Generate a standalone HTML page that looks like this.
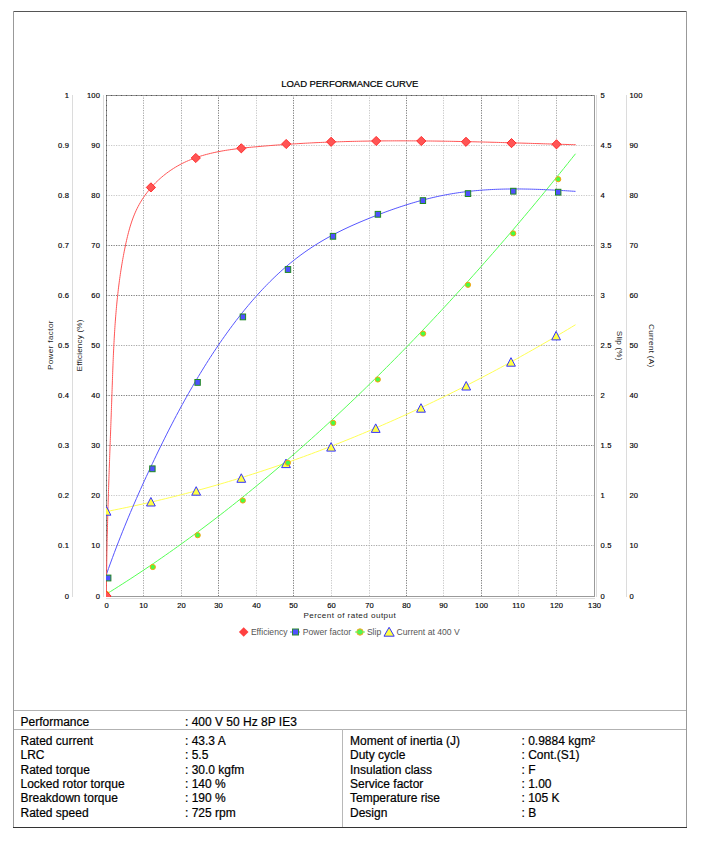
<!DOCTYPE html>
<html><head><meta charset="utf-8">
<style>
html,body{margin:0;padding:0;background:#fff;}
body{width:701px;height:841px;position:relative;overflow:hidden;font-family:"Liberation Sans",sans-serif;}
.ln{position:absolute;}
.t{position:absolute;font-size:12px;line-height:14px;color:#000;white-space:nowrap;-webkit-text-stroke:0.2px #000;}
svg text{font-family:"Liberation Sans",sans-serif;}
.title{font-size:9.5px;fill:#000;stroke:#000;stroke-width:0.2px;}
.tk{font-size:7.6px;fill:#000;stroke:#000;stroke-width:0.15px;letter-spacing:0.2px;}
.at{font-size:8.1px;fill:#222;}
.lg{font-size:8.6px;fill:#555;}
.grid{stroke:#8a8a8a;stroke-width:1;stroke-dasharray:1.25,1.25;}
.gD{stroke:#7e7e7e;} .gM{stroke:#a8a8a8;} .gL{stroke:#c8c8c8;}
.grid.dk{stroke:#555;}
.axl{stroke:#dcdcdc;stroke-width:1;}
</style></head><body>
<svg width="701" height="700" style="position:absolute;left:0;top:0">
<defs><clipPath id="pc"><rect x="106" y="95" width="489" height="502"/></clipPath></defs>
<text x="281.3" y="86.8" textLength="137" lengthAdjust="spacing" class="title">LOAD PERFORMANCE CURVE</text>
<line x1="143.5" y1="95" x2="143.5" y2="596" class="grid gM"/>
<line x1="181.5" y1="95" x2="181.5" y2="596" class="grid gM"/>
<line x1="218.5" y1="95" x2="218.5" y2="596" class="grid gD"/>
<line x1="256.5" y1="95" x2="256.5" y2="596" class="grid gL"/>
<line x1="293.5" y1="95" x2="293.5" y2="596" class="grid gD"/>
<line x1="331.5" y1="95" x2="331.5" y2="596" class="grid gL"/>
<line x1="369.5" y1="95" x2="369.5" y2="596" class="grid gL"/>
<line x1="406.5" y1="95" x2="406.5" y2="596" class="grid gD"/>
<line x1="443.5" y1="95" x2="443.5" y2="596" class="grid gL"/>
<line x1="481.5" y1="95" x2="481.5" y2="596" class="grid gD"/>
<line x1="518.5" y1="95" x2="518.5" y2="596" class="grid gL"/>
<line x1="556.5" y1="95" x2="556.5" y2="596" class="grid gM"/>
<line x1="106" y1="145.5" x2="594" y2="145.5" class="grid gL"/>
<line x1="106" y1="195.5" x2="594" y2="195.5" class="grid gL"/>
<line x1="106" y1="245.5" x2="594" y2="245.5" class="grid gD"/>
<line x1="106" y1="295.5" x2="594" y2="295.5" class="grid gD"/>
<line x1="106" y1="345.5" x2="594" y2="345.5" class="grid gM"/>
<line x1="106" y1="395.5" x2="594" y2="395.5" class="grid gD"/>
<line x1="106" y1="445.5" x2="594" y2="445.5" class="grid gD"/>
<line x1="106" y1="495.5" x2="594" y2="495.5" class="grid gL"/>
<line x1="106" y1="545.5" x2="594" y2="545.5" class="grid gM"/>
<line x1="106" y1="95.5" x2="594" y2="95.5" stroke="#8e8e8e" stroke-width="1"/>
<line x1="106.5" y1="95" x2="106.5" y2="596" stroke="#8e8e8e" stroke-width="1"/>
<line x1="106" y1="95.5" x2="594" y2="95.5" stroke="#555" stroke-width="1" stroke-dasharray="1,4"/>
<line x1="106.5" y1="95" x2="106.5" y2="596" stroke="#555" stroke-width="1" stroke-dasharray="1,4"/>
<line x1="594.5" y1="95" x2="594.5" y2="597" stroke="#9a9a9a" stroke-width="1"/>
<line x1="106" y1="596.5" x2="595" y2="596.5" stroke="#9a9a9a" stroke-width="1"/>
<line x1="72.5" y1="95" x2="72.5" y2="597" class="axl"/>
<line x1="103.5" y1="95" x2="103.5" y2="597" class="axl"/>
<line x1="596.5" y1="95" x2="596.5" y2="597" class="axl"/>
<line x1="626.5" y1="95" x2="626.5" y2="597" class="axl"/>
<line x1="106" y1="598.5" x2="595" y2="598.5" class="axl"/>
<text x="69.2" y="598.6" text-anchor="end" class="tk">0</text>
<text x="100.2" y="598.6" text-anchor="end" class="tk">0</text>
<text x="600.6" y="598.6" text-anchor="start" class="tk">0</text>
<text x="629.4" y="598.6" text-anchor="start" class="tk">0</text>
<text x="69.2" y="547.6" text-anchor="end" class="tk">0.1</text>
<text x="100.2" y="547.6" text-anchor="end" class="tk">10</text>
<text x="600.6" y="547.6" text-anchor="start" class="tk">0.5</text>
<text x="629.4" y="547.6" text-anchor="start" class="tk">10</text>
<text x="69.2" y="497.6" text-anchor="end" class="tk">0.2</text>
<text x="100.2" y="497.6" text-anchor="end" class="tk">20</text>
<text x="600.6" y="497.6" text-anchor="start" class="tk">1</text>
<text x="629.4" y="497.6" text-anchor="start" class="tk">20</text>
<text x="69.2" y="447.6" text-anchor="end" class="tk">0.3</text>
<text x="100.2" y="447.6" text-anchor="end" class="tk">30</text>
<text x="600.6" y="447.6" text-anchor="start" class="tk">1.5</text>
<text x="629.4" y="447.6" text-anchor="start" class="tk">30</text>
<text x="69.2" y="397.6" text-anchor="end" class="tk">0.4</text>
<text x="100.2" y="397.6" text-anchor="end" class="tk">40</text>
<text x="600.6" y="397.6" text-anchor="start" class="tk">2</text>
<text x="629.4" y="397.6" text-anchor="start" class="tk">40</text>
<text x="69.2" y="347.6" text-anchor="end" class="tk">0.5</text>
<text x="100.2" y="347.6" text-anchor="end" class="tk">50</text>
<text x="600.6" y="347.6" text-anchor="start" class="tk">2.5</text>
<text x="629.4" y="347.6" text-anchor="start" class="tk">50</text>
<text x="69.2" y="297.6" text-anchor="end" class="tk">0.6</text>
<text x="100.2" y="297.6" text-anchor="end" class="tk">60</text>
<text x="600.6" y="297.6" text-anchor="start" class="tk">3</text>
<text x="629.4" y="297.6" text-anchor="start" class="tk">60</text>
<text x="69.2" y="247.6" text-anchor="end" class="tk">0.7</text>
<text x="100.2" y="247.6" text-anchor="end" class="tk">70</text>
<text x="600.6" y="247.6" text-anchor="start" class="tk">3.5</text>
<text x="629.4" y="247.6" text-anchor="start" class="tk">70</text>
<text x="69.2" y="197.6" text-anchor="end" class="tk">0.8</text>
<text x="100.2" y="197.6" text-anchor="end" class="tk">80</text>
<text x="600.6" y="197.6" text-anchor="start" class="tk">4</text>
<text x="629.4" y="197.6" text-anchor="start" class="tk">80</text>
<text x="69.2" y="147.6" text-anchor="end" class="tk">0.9</text>
<text x="100.2" y="147.6" text-anchor="end" class="tk">90</text>
<text x="600.6" y="147.6" text-anchor="start" class="tk">4.5</text>
<text x="629.4" y="147.6" text-anchor="start" class="tk">90</text>
<text x="69.2" y="97.6" text-anchor="end" class="tk">1</text>
<text x="100.2" y="97.6" text-anchor="end" class="tk">100</text>
<text x="600.6" y="97.6" text-anchor="start" class="tk">5</text>
<text x="629.4" y="97.6" text-anchor="start" class="tk">100</text>
<text x="106.6" y="608.2" text-anchor="middle" class="tk">0</text>
<text x="143.6" y="608.2" text-anchor="middle" class="tk">10</text>
<text x="181.6" y="608.2" text-anchor="middle" class="tk">20</text>
<text x="218.6" y="608.2" text-anchor="middle" class="tk">30</text>
<text x="256.6" y="608.2" text-anchor="middle" class="tk">40</text>
<text x="293.6" y="608.2" text-anchor="middle" class="tk">50</text>
<text x="331.6" y="608.2" text-anchor="middle" class="tk">60</text>
<text x="369.6" y="608.2" text-anchor="middle" class="tk">70</text>
<text x="406.6" y="608.2" text-anchor="middle" class="tk">80</text>
<text x="443.6" y="608.2" text-anchor="middle" class="tk">90</text>
<text x="481.6" y="608.2" text-anchor="middle" class="tk">100</text>
<text x="518.6" y="608.2" text-anchor="middle" class="tk">110</text>
<text x="556.6" y="608.2" text-anchor="middle" class="tk">120</text>
<text x="594.6" y="608.2" text-anchor="middle" class="tk">130</text>
<text transform="translate(52.6,345.3) rotate(-90)" x="-24.8" textLength="49.6" lengthAdjust="spacing" class="at">Power factor</text>
<text transform="translate(82.4,345.5) rotate(-90)" x="-25.9" textLength="51.8" lengthAdjust="spacing" class="at">Efficiency (%)</text>
<text transform="translate(617.2,345.6) rotate(90)" x="-14.8" textLength="29.6" lengthAdjust="spacing" class="at">Slip (%)</text>
<text transform="translate(648.8,345.7) rotate(90)" x="-21.6" textLength="43.2" lengthAdjust="spacing" class="at">Current (A)</text>
<text x="303.4" y="618" textLength="92.4" lengthAdjust="spacing" class="at">Percent of rated output</text>
<g clip-path="url(#pc)">
<path d="M106.50,511.48L110.44,510.72L114.38,509.95L118.32,509.16L122.26,508.36L126.21,507.54L130.15,506.71L134.09,505.87L138.03,505.01L141.97,504.14L145.91,503.26L149.85,502.36L153.79,501.45L157.74,500.53L161.68,499.59L165.62,498.63L169.56,497.67L173.50,496.69L177.44,495.69L181.38,494.69L185.32,493.67L189.26,492.63L193.21,491.58L197.15,490.52L201.09,489.45L205.03,488.36L208.97,487.25L212.91,486.14L216.85,485.00L220.79,483.86L224.74,482.70L228.68,481.53L232.62,480.35L236.56,479.15L240.50,477.93L244.44,476.71L248.38,475.47L252.32,474.21L256.26,472.94L260.21,471.66L264.15,470.37L268.09,469.06L272.03,467.74L275.97,466.40L279.91,465.05L283.85,463.69L287.79,462.31L291.74,460.92L295.68,459.51L299.62,458.10L303.56,456.66L307.50,455.22L311.44,453.76L315.38,452.28L319.32,450.80L323.26,449.30L327.21,447.78L331.15,446.25L335.09,444.71L339.03,443.16L342.97,441.59L346.91,440.00L350.85,438.41L354.79,436.80L358.74,435.17L362.68,433.54L366.62,431.88L370.56,430.22L374.50,428.54L378.44,426.85L382.38,425.14L386.32,423.42L390.26,421.69L394.21,419.94L398.15,418.18L402.09,416.40L406.03,414.62L409.97,412.81L413.91,411.00L417.85,409.17L421.79,407.33L425.74,405.47L429.68,403.60L433.62,401.71L437.56,399.81L441.50,397.90L445.44,395.98L449.38,394.04L453.32,392.09L457.26,390.12L461.21,388.14L465.15,386.14L469.09,384.14L473.03,382.11L476.97,380.08L480.91,378.03L484.85,375.97L488.79,373.89L492.74,371.80L496.68,369.70L500.62,367.58L504.56,365.45L508.50,363.30L512.44,361.15L516.38,358.97L520.32,356.79L524.26,354.59L528.21,352.38L532.15,350.15L536.09,347.91L540.03,345.65L543.97,343.38L547.91,341.10L551.85,338.81L555.79,336.50L559.74,334.17L563.68,331.84L567.62,329.49L571.56,327.12L575.50,324.75" fill="none" stroke="#ffff55" stroke-width="1"/>
<path d="M106.50,594.00L110.44,591.55L114.38,589.09L118.32,586.60L122.26,584.09L126.21,581.56L130.15,579.01L134.09,576.44L138.03,573.84L141.97,571.23L145.91,568.59L149.85,565.94L153.79,563.26L157.74,560.56L161.68,557.84L165.62,555.09L169.56,552.33L173.50,549.55L177.44,546.74L181.38,543.91L185.32,541.06L189.26,538.19L193.21,535.30L197.15,532.39L201.09,529.46L205.03,526.50L208.97,523.52L212.91,520.53L216.85,517.51L220.79,514.47L224.74,511.41L228.68,508.32L232.62,505.22L236.56,502.10L240.50,498.95L244.44,495.78L248.38,492.59L252.32,489.38L256.26,486.15L260.21,482.90L264.15,479.62L268.09,476.33L272.03,473.01L275.97,469.67L279.91,466.31L283.85,462.93L287.79,459.53L291.74,456.11L295.68,452.66L299.62,449.20L303.56,445.71L307.50,442.20L311.44,438.67L315.38,435.12L319.32,431.55L323.26,427.96L327.21,424.34L331.15,420.71L335.09,417.05L339.03,413.37L342.97,409.67L346.91,405.95L350.85,402.21L354.79,398.45L358.74,394.66L362.68,390.86L366.62,387.03L370.56,383.18L374.50,379.31L378.44,375.42L382.38,371.51L386.32,367.58L390.26,363.62L394.21,359.64L398.15,355.65L402.09,351.63L406.03,347.59L409.97,343.53L413.91,339.44L417.85,335.34L421.79,331.22L425.74,327.07L429.68,322.90L433.62,318.71L437.56,314.50L441.50,310.27L445.44,306.02L449.38,301.75L453.32,297.45L457.26,293.13L461.21,288.80L465.15,284.44L469.09,280.06L473.03,275.66L476.97,271.23L480.91,266.79L484.85,262.32L488.79,257.84L492.74,253.33L496.68,248.80L500.62,244.25L504.56,239.68L508.50,235.09L512.44,230.47L516.38,225.84L520.32,221.18L524.26,216.50L528.21,211.80L532.15,207.08L536.09,202.34L540.03,197.58L543.97,192.79L547.91,187.99L551.85,183.16L555.79,178.31L559.74,173.44L563.68,168.55L567.62,163.64L571.56,158.70L575.50,153.75" fill="none" stroke="#55ff55" stroke-width="1"/>
<path d="M106.50,574.13L108.50,568.54L110.49,563.04L112.49,557.63L114.48,552.30L116.48,547.06L118.47,541.89L120.47,536.80L122.47,531.79L124.46,526.85L126.46,521.97L128.45,517.16L130.45,512.42L132.44,507.73L134.44,503.10L136.44,498.53L138.43,494.01L140.43,489.53L142.42,485.11L144.42,480.72L146.41,476.38L148.41,472.07L150.41,467.80L152.40,463.55L154.40,459.34L156.39,455.17L158.39,451.03L160.39,446.92L162.38,442.86L164.38,438.84L166.37,434.86L168.37,430.92L170.36,427.02L172.36,423.16L174.36,419.34L176.35,415.56L178.35,411.83L180.34,408.13L182.34,404.47L184.33,400.85L186.33,397.28L188.33,393.74L190.32,390.24L192.32,386.78L194.31,383.36L196.31,379.98L198.30,376.64L200.30,373.34L202.30,370.08L204.29,366.85L206.29,363.67L208.28,360.52L210.28,357.41L212.27,354.34L214.27,351.31L216.27,348.32L218.26,345.36L220.26,342.44L222.25,339.56L224.25,336.72L226.24,333.91L228.24,331.15L230.24,328.42L232.23,325.72L234.23,323.07L236.22,320.45L238.22,317.87L240.21,315.32L242.21,312.82L244.21,310.34L246.20,307.91L248.20,305.51L250.19,303.15L252.19,300.82L254.19,298.53L256.18,296.27L258.18,294.05L260.17,291.87L262.17,289.72L264.16,287.61L266.16,285.53L268.16,283.49L270.15,281.48L272.15,279.51L274.14,277.58L276.14,275.67L278.13,273.80L280.13,271.97L282.13,270.17L284.12,268.41L286.12,266.68L288.11,264.98L290.11,263.32L292.10,261.69L294.10,260.09L296.10,258.53L298.09,257.00L300.09,255.51L302.08,254.04L304.08,252.61L306.07,251.20L308.07,249.83L310.07,248.48L312.06,247.16L314.06,245.87L316.05,244.60L318.05,243.37L320.04,242.15L322.04,240.96L324.04,239.80L326.03,238.65L328.03,237.54L330.02,236.44L332.02,235.36L334.01,234.30L336.01,233.27L338.01,232.25L340.00,231.25L342.00,230.27L343.99,229.30L345.99,228.36L347.99,227.42L349.98,226.51L351.98,225.60L353.97,224.71L355.97,223.84L357.96,222.97L359.96,222.12L361.96,221.28L363.95,220.44L365.95,219.62L367.94,218.81L369.94,218.00L371.93,217.20L373.93,216.41L375.93,215.63L377.92,214.86L379.92,214.10L381.91,213.34L383.91,212.59L385.90,211.85L387.90,211.13L389.90,210.41L391.89,209.70L393.89,209.00L395.88,208.31L397.88,207.63L399.87,206.96L401.87,206.30L403.87,205.65L405.86,205.01L407.86,204.39L409.85,203.77L411.85,203.17L413.84,202.58L415.84,202.00L417.84,201.43L419.83,200.87L421.83,200.33L423.82,199.80L425.82,199.28L427.81,198.77L429.81,198.28L431.81,197.80L433.80,197.33L435.80,196.88L437.79,196.44L439.79,196.01L441.79,195.60L443.78,195.21L445.78,194.82L447.77,194.45L449.77,194.10L451.76,193.76L453.76,193.43L455.76,193.12L457.75,192.82L459.75,192.53L461.74,192.26L463.74,191.99L465.73,191.74L467.73,191.51L469.73,191.28L471.72,191.07L473.72,190.86L475.71,190.67L477.71,190.50L479.70,190.33L481.70,190.17L483.70,190.02L485.69,189.89L487.69,189.76L489.68,189.64L491.68,189.54L493.67,189.44L495.67,189.35L497.67,189.28L499.66,189.21L501.66,189.15L503.65,189.10L505.65,189.05L507.64,189.02L509.64,188.99L511.64,188.98L513.63,188.96L515.63,188.96L517.62,188.97L519.62,188.98L521.61,188.99L523.61,189.02L525.61,189.05L527.60,189.09L529.60,189.13L531.59,189.18L533.59,189.24L535.59,189.30L537.58,189.36L539.58,189.43L541.57,189.51L543.57,189.59L545.56,189.68L547.56,189.77L549.56,189.86L551.55,189.96L553.55,190.06L555.54,190.16L557.54,190.27L559.53,190.38L561.53,190.50L563.53,190.62L565.52,190.73L567.52,190.86L569.51,190.98L571.51,191.11L573.50,191.24L575.50,191.36" fill="none" stroke="#5555ff" stroke-width="1"/>
<path d="M106.45,596.04L106.46,593.90L106.47,591.76L106.47,589.63L106.49,587.49L106.50,585.35L106.51,583.21L106.53,581.07L106.55,578.94L106.57,576.80L106.59,574.66L106.61,572.53L106.63,570.39L106.66,568.26L106.69,566.12L106.72,563.99L106.75,561.85L106.78,559.72L106.82,557.58L106.85,555.45L106.89,553.32L106.93,551.18L106.97,549.05L107.01,546.92L107.05,544.79L107.09,542.66L107.14,540.52L107.19,538.39L107.23,536.26L107.28,534.13L107.33,532.00L107.38,529.87L107.44,527.74L107.49,525.61L107.55,523.48L107.60,521.35L107.66,519.22L107.72,517.09L107.78,514.96L107.84,512.83L107.90,510.70L107.96,508.57L108.02,506.45L108.09,504.32L108.15,502.19L108.22,500.06L108.28,497.93L108.35,495.80L108.42,493.68L108.48,491.55L108.55,489.42L108.62,487.29L108.69,485.17L108.76,483.04L108.84,480.91L108.91,478.78L108.98,476.66L109.05,474.53L109.13,472.40L109.20,470.27L109.28,468.15L109.35,466.02L109.43,463.89L109.50,461.76L109.58,459.64L109.65,457.51L109.73,455.38L109.81,453.25L109.89,451.12L109.96,449.00L110.04,446.87L110.12,444.74L110.20,442.61L110.27,440.49L110.35,438.36L110.43,436.23L110.51,434.10L110.59,431.97L110.66,429.84L110.74,427.71L110.82,425.59L110.90,423.46L110.97,421.33L111.05,419.20L111.13,417.07L111.21,414.94L111.28,412.81L111.36,410.68L111.44,408.55L111.51,406.42L111.59,404.29L111.66,402.16L111.74,400.03L111.81,397.89L111.89,395.76L111.96,393.63L112.03,391.50L112.11,389.37L112.18,387.23L112.25,385.10L112.33,382.97L112.40,380.84L112.48,378.70L112.55,376.57L112.63,374.44L112.70,372.30L112.78,370.17L112.86,368.04L112.95,365.90L113.03,363.77L113.12,361.64L113.20,359.50L113.29,357.37L113.39,355.24L113.48,353.10L113.58,350.97L113.68,348.84L113.78,346.70L113.89,344.57L114.00,342.44L114.11,340.31L114.23,338.18L114.35,336.04L114.48,333.91L114.61,331.78L114.74,329.65L114.88,327.52L115.03,325.39L115.18,323.26L115.33,321.13L115.49,319.00L115.65,316.87L115.82,314.74L116.00,312.62L116.18,310.49L116.36,308.36L116.56,306.24L116.76,304.11L116.96,301.98L117.18,299.86L117.40,297.74L117.62,295.61L117.86,293.49L118.10,291.37L118.34,289.24L118.60,287.12L118.86,285.00L119.14,282.88L119.42,280.76L119.70,278.65L120.00,276.53L120.31,274.41L120.62,272.30L120.94,270.18L121.27,268.07L121.61,265.95L121.97,263.84L122.33,261.73L122.70,259.62L123.08,257.51L123.46,255.40L123.86,253.29L124.28,251.18L124.70,249.08L125.13,246.97L125.57,244.87L126.02,242.76L126.49,240.66L126.97,238.57L127.47,236.47L127.99,234.39L128.52,232.31L129.08,230.24L129.66,228.18L130.27,226.12L130.91,224.09L131.57,222.06L132.26,220.05L132.99,218.05L133.75,216.07L134.55,214.11L135.38,212.16L136.26,210.24L137.18,208.34L138.13,206.46L139.13,204.60L140.18,202.77L141.26,200.96L142.38,199.17L143.54,197.41L144.74,195.68L145.97,193.97L147.25,192.29L148.55,190.64L149.89,189.01L151.27,187.41L152.68,185.84L154.12,184.30L155.59,182.79L157.10,181.32L158.63,179.87L160.19,178.45L161.78,177.07L163.40,175.72L165.05,174.40L166.72,173.12L168.42,171.87L170.14,170.65L171.88,169.47L173.65,168.33L175.44,167.23L177.25,166.16L179.08,165.13L180.93,164.13L182.80,163.18L184.69,162.26L186.59,161.38L188.52,160.54L190.45,159.73L192.41,158.96L194.38,158.22L196.36,157.51L198.36,156.83L200.38,156.18L202.40,155.57L204.44,154.98L206.49,154.41L208.56,153.88L210.63,153.37L212.71,152.88L214.81,152.42L216.91,151.98L219.02,151.56L221.14,151.16L223.27,150.78L225.40,150.42L227.54,150.08L229.69,149.76L231.84,149.45L234.00,149.15L236.16,148.87L238.33,148.60L240.49,148.35L242.66,148.10L244.84,147.87L247.01,147.64L249.18,147.42L251.36,147.21L253.53,147.00L255.71,146.80L257.88,146.61L260.05,146.42L262.22,146.23L264.39,146.04L266.55,145.86L268.72,145.68L270.88,145.51L273.04,145.34L275.20,145.18L277.36,145.01L279.52,144.85L281.68,144.70L283.83,144.55L285.99,144.40L288.14,144.25L290.29,144.11L292.44,143.98L294.59,143.84L296.74,143.71L298.88,143.58L301.03,143.46L303.17,143.34L305.32,143.22L307.46,143.11L309.60,142.99L311.74,142.89L313.88,142.78L316.02,142.68L318.15,142.58L320.29,142.49L322.43,142.39L324.56,142.30L326.69,142.22L328.83,142.13L330.96,142.05L333.09,141.97L335.22,141.90L337.35,141.83L339.47,141.76L341.60,141.69L343.73,141.63L345.86,141.56L347.98,141.51L350.11,141.45L352.23,141.40L354.35,141.35L356.48,141.30L358.60,141.25L360.72,141.21L362.84,141.17L364.96,141.13L367.08,141.10L369.20,141.06L371.32,141.03L373.44,141.00L375.56,140.98L377.68,140.95L379.79,140.93L381.91,140.91L384.03,140.89L386.14,140.88L388.26,140.87L390.38,140.86L392.49,140.85L394.61,140.84L396.72,140.84L398.84,140.83L400.95,140.83L403.07,140.83L405.18,140.84L407.29,140.84L409.41,140.85L411.52,140.86L413.64,140.87L415.75,140.88L417.87,140.89L419.98,140.91L422.09,140.93L424.21,140.95L426.32,140.97L428.44,140.99L430.55,141.01L432.67,141.04L434.78,141.07L436.90,141.09L439.01,141.12L441.13,141.15L443.24,141.19L445.36,141.22L447.47,141.26L449.59,141.29L451.71,141.33L453.82,141.37L455.94,141.41L458.06,141.45L460.18,141.50L462.29,141.54L464.41,141.58L466.53,141.63L468.65,141.68L470.77,141.73L472.89,141.77L475.02,141.82L477.14,141.88L479.26,141.93L481.38,141.98L483.51,142.03L485.63,142.09L487.76,142.14L489.88,142.20L492.01,142.26L494.14,142.31L496.27,142.37L498.39,142.43L500.52,142.49L502.65,142.55L504.79,142.61L506.92,142.67L509.05,142.73L511.19,142.80L513.32,142.86L515.46,142.92L517.59,142.99L519.73,143.05L521.87,143.11L524.01,143.18L526.15,143.24L528.29,143.31L530.43,143.37L532.58,143.44L534.72,143.50L536.87,143.57L539.02,143.63L541.16,143.70L543.31,143.77L545.47,143.83L547.62,143.90L549.77,143.96L551.93,144.03L554.08,144.10L556.24,144.16L558.40,144.23L560.56,144.29L562.72,144.36L564.88,144.42L567.05,144.49L569.21,144.55L571.38,144.61L573.55,144.68L575.72,144.74" fill="none" stroke="#ff5555" stroke-width="1"/>
<path d="M106.5,506.7 L110.9,515.2 L102.1,515.2 Z" fill="#ffff44" stroke="#3333ff" stroke-width="1"/>
<path d="M150.9,497.5 L155.3,506.0 L146.5,506.0 Z" fill="#ffff44" stroke="#3333ff" stroke-width="1"/>
<path d="M196.2,486.7 L200.6,495.2 L191.79999999999998,495.2 Z" fill="#ffff44" stroke="#3333ff" stroke-width="1"/>
<path d="M241.3,473.8 L245.70000000000002,482.3 L236.9,482.3 Z" fill="#ffff44" stroke="#3333ff" stroke-width="1"/>
<path d="M286,459.09999999999997 L290.4,467.59999999999997 L281.6,467.59999999999997 Z" fill="#ffff44" stroke="#3333ff" stroke-width="1"/>
<path d="M331.1,442.59999999999997 L335.5,451.09999999999997 L326.70000000000005,451.09999999999997 Z" fill="#ffff44" stroke="#3333ff" stroke-width="1"/>
<path d="M375.7,423.9 L380.09999999999997,432.4 L371.3,432.4 Z" fill="#ffff44" stroke="#3333ff" stroke-width="1"/>
<path d="M421,403.7 L425.4,412.2 L416.6,412.2 Z" fill="#ffff44" stroke="#3333ff" stroke-width="1"/>
<path d="M466.2,381.5 L470.59999999999997,390.0 L461.8,390.0 Z" fill="#ffff44" stroke="#3333ff" stroke-width="1"/>
<path d="M511,357.7 L515.4,366.2 L506.6,366.2 Z" fill="#ffff44" stroke="#3333ff" stroke-width="1"/>
<path d="M556.1,331.4 L560.5,339.9 L551.7,339.9 Z" fill="#ffff44" stroke="#3333ff" stroke-width="1"/>
<circle cx="106.5" cy="594" r="2.6" fill="#44ff44" stroke="#ff9f10" stroke-width="1"/>
<circle cx="152.8" cy="567" r="2.6" fill="#44ff44" stroke="#ff9f10" stroke-width="1"/>
<circle cx="197.7" cy="535.2" r="2.6" fill="#44ff44" stroke="#ff9f10" stroke-width="1"/>
<circle cx="242.8" cy="500.5" r="2.6" fill="#44ff44" stroke="#ff9f10" stroke-width="1"/>
<circle cx="287.9" cy="462.8" r="2.6" fill="#44ff44" stroke="#ff9f10" stroke-width="1"/>
<circle cx="333.2" cy="422.9" r="2.6" fill="#44ff44" stroke="#ff9f10" stroke-width="1"/>
<circle cx="377.8" cy="379.5" r="2.6" fill="#44ff44" stroke="#ff9f10" stroke-width="1"/>
<circle cx="423.1" cy="333.6" r="2.6" fill="#44ff44" stroke="#ff9f10" stroke-width="1"/>
<circle cx="468" cy="284.8" r="2.6" fill="#44ff44" stroke="#ff9f10" stroke-width="1"/>
<circle cx="513.2" cy="233.4" r="2.6" fill="#44ff44" stroke="#ff9f10" stroke-width="1"/>
<circle cx="558.2" cy="179.2" r="2.6" fill="#44ff44" stroke="#ff9f10" stroke-width="1"/>
<rect x="105.5" y="575.1" width="5.4" height="5.8" fill="#5050ff" stroke="#208a20" stroke-width="1"/>
<rect x="149.70000000000002" y="465.90000000000003" width="5.4" height="5.8" fill="#5050ff" stroke="#208a20" stroke-width="1"/>
<rect x="194.9" y="379.5" width="5.4" height="5.8" fill="#5050ff" stroke="#208a20" stroke-width="1"/>
<rect x="240.20000000000002" y="314.0" width="5.4" height="5.8" fill="#5050ff" stroke="#208a20" stroke-width="1"/>
<rect x="285.3" y="266.6" width="5.4" height="5.8" fill="#5050ff" stroke="#208a20" stroke-width="1"/>
<rect x="330.3" y="233.4" width="5.4" height="5.8" fill="#5050ff" stroke="#208a20" stroke-width="1"/>
<rect x="375.2" y="211.4" width="5.4" height="5.8" fill="#5050ff" stroke="#208a20" stroke-width="1"/>
<rect x="420.2" y="197.7" width="5.4" height="5.8" fill="#5050ff" stroke="#208a20" stroke-width="1"/>
<rect x="465.3" y="190.7" width="5.4" height="5.8" fill="#5050ff" stroke="#208a20" stroke-width="1"/>
<rect x="510.59999999999997" y="188.29999999999998" width="5.4" height="5.8" fill="#5050ff" stroke="#208a20" stroke-width="1"/>
<rect x="555.5" y="189.29999999999998" width="5.4" height="5.8" fill="#5050ff" stroke="#208a20" stroke-width="1"/>
<path d="M106.5,591.4 L111.1,596 L106.5,600.6 L101.9,596 Z" fill="#ff5555" stroke="#ff2020" stroke-width="0.9"/>
<path d="M150.9,182.8 L155.5,187.4 L150.9,192.0 L146.3,187.4 Z" fill="#ff5555" stroke="#ff2020" stroke-width="0.9"/>
<path d="M195.8,153.4 L200.4,158 L195.8,162.6 L191.20000000000002,158 Z" fill="#ff5555" stroke="#ff2020" stroke-width="0.9"/>
<path d="M241.3,143.70000000000002 L245.9,148.3 L241.3,152.9 L236.70000000000002,148.3 Z" fill="#ff5555" stroke="#ff2020" stroke-width="0.9"/>
<path d="M286.2,139.4 L290.8,144 L286.2,148.6 L281.59999999999997,144 Z" fill="#ff5555" stroke="#ff2020" stroke-width="0.9"/>
<path d="M331.1,137.20000000000002 L335.70000000000005,141.8 L331.1,146.4 L326.5,141.8 Z" fill="#ff5555" stroke="#ff2020" stroke-width="0.9"/>
<path d="M376.2,136.4 L380.8,141 L376.2,145.6 L371.59999999999997,141 Z" fill="#ff5555" stroke="#ff2020" stroke-width="0.9"/>
<path d="M421.3,136.4 L425.90000000000003,141 L421.3,145.6 L416.7,141 Z" fill="#ff5555" stroke="#ff2020" stroke-width="0.9"/>
<path d="M466,137.20000000000002 L470.6,141.8 L466,146.4 L461.4,141.8 Z" fill="#ff5555" stroke="#ff2020" stroke-width="0.9"/>
<path d="M511.5,138.5 L516.1,143.1 L511.5,147.7 L506.9,143.1 Z" fill="#ff5555" stroke="#ff2020" stroke-width="0.9"/>
<path d="M556.5,139.70000000000002 L561.1,144.3 L556.5,148.9 L551.9,144.3 Z" fill="#ff5555" stroke="#ff2020" stroke-width="0.9"/>
</g>
<path d="M243.7,627.3 L248.5,632 L243.7,636.7 L238.9,632 Z" fill="#ff4040"/>
<text x="250.9" y="635" class="lg">Efficiency</text>
<line x1="290" y1="632" x2="300" y2="632" stroke="#5555ff" stroke-width="1"/>
<rect x="292.5" y="629" width="6" height="6" fill="#5050ff" stroke="#2e8b2e" stroke-width="1"/>
<text x="302.8" y="635" class="lg">Power factor</text>
<circle cx="360" cy="632" r="3.2" fill="#55ee55" stroke="#ffaa22" stroke-width="1"/>
<line x1="355" y1="632" x2="365" y2="632" stroke="#55ff55" stroke-width="1"/>
<text x="366.9" y="635" class="lg">Slip</text>
<path d="M389.1,627.3 L394.2,636.2 L384,636.2 Z" fill="#ffff44" stroke="#3333ff" stroke-width="1"/>
<text x="396.6" y="635" class="lg">Current at 400 V</text>
</svg>
<div class="ln" style="left:13px;top:11px;width:674px;height:1px;background:#555"></div>
<div class="ln" style="left:13px;top:11px;width:1px;height:817px;background:#999"></div>
<div class="ln" style="left:686px;top:11px;width:1px;height:817px;background:#999"></div>
<div class="ln" style="left:13px;top:827px;width:674px;height:1px;background:#333"></div>
<div class="ln" style="left:14px;top:710px;width:672px;height:1px;background:#b2b2b2"></div>
<div class="ln" style="left:14px;top:729px;width:672px;height:1px;background:#b2b2b2"></div>
<div class="ln" style="left:342px;top:729px;width:1px;height:98px;background:#b8b8b8"></div>
<div class="t" style="left:20.5px;top:714.8px">Performance</div>
<div class="t" style="left:185px;top:714.8px">: 400 V 50 Hz 8P IE3</div>
<div class="t" style="left:20.5px;top:734.1px">Rated current</div>
<div class="t" style="left:185px;top:734.1px">: 43.3 A</div>
<div class="t" style="left:20.5px;top:748.3px">LRC</div>
<div class="t" style="left:185px;top:748.3px">: 5.5</div>
<div class="t" style="left:20.5px;top:762.5px">Rated torque</div>
<div class="t" style="left:185px;top:762.5px">: 30.0 kgfm</div>
<div class="t" style="left:20.5px;top:776.9px">Locked rotor torque</div>
<div class="t" style="left:185px;top:776.9px">: 140 %</div>
<div class="t" style="left:20.5px;top:791.1px">Breakdown torque</div>
<div class="t" style="left:185px;top:791.1px">: 190 %</div>
<div class="t" style="left:20.5px;top:806.3px">Rated speed</div>
<div class="t" style="left:185px;top:806.3px">: 725 rpm</div>
<div class="t" style="left:350px;top:734.1px">Moment of inertia (J)</div>
<div class="t" style="left:521.5px;top:734.1px">: 0.9884 kgm²</div>
<div class="t" style="left:350px;top:748.3px">Duty cycle</div>
<div class="t" style="left:521.5px;top:748.3px">: Cont.(S1)</div>
<div class="t" style="left:350px;top:762.5px">Insulation class</div>
<div class="t" style="left:521.5px;top:762.5px">: F</div>
<div class="t" style="left:350px;top:776.9px">Service factor</div>
<div class="t" style="left:521.5px;top:776.9px">: 1.00</div>
<div class="t" style="left:350px;top:791.1px">Temperature rise</div>
<div class="t" style="left:521.5px;top:791.1px">: 105 K</div>
<div class="t" style="left:350px;top:806.3px">Design</div>
<div class="t" style="left:521.5px;top:806.3px">: B</div>
</body></html>
